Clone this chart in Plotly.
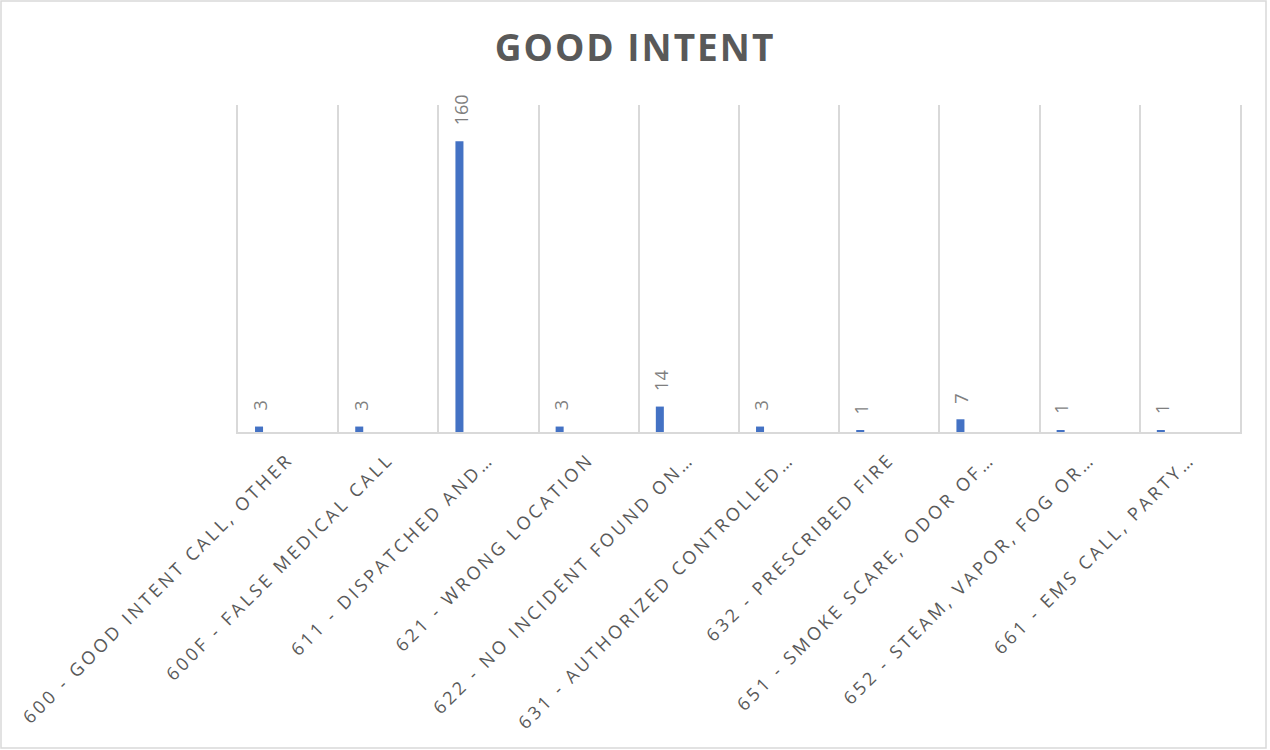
import plotly.graph_objects as go

# Incident type labels (as shown on the axis) and their call counts
categories = [
    "600 - GOOD INTENT CALL, OTHER",
    "600F - FALSE MEDICAL CALL",
    "611 - DISPATCHED AND…",
    "621 - WRONG LOCATION",
    "622 - NO INCIDENT FOUND ON…",
    "631 - AUTHORIZED CONTROLLED…",
    "632 - PRESCRIBED FIRE",
    "651 - SMOKE SCARE, ODOR OF…",
    "652 - STEAM, VAPOR, FOG OR…",
    "661 - EMS CALL, PARTY…",
]
counts = [3, 3, 160, 3, 14, 3, 1, 7, 1, 1]

W, H = 1270, 750
M_L, M_R, M_T, M_B = 238, 30, 105, 318

BAR_WIDTH = 0.08
BAR_OFFSET = -0.33

fig = go.Figure()
fig.add_trace(go.Bar(
    x=categories,
    y=counts,
    width=BAR_WIDTH,
    offset=BAR_OFFSET,
    marker=dict(color="#4472C4", line=dict(width=0)),
    hoverinfo="x+y",
))

# Rotated value labels above each bar
for cat, val in zip(categories, counts):
    fig.add_annotation(
        x=cat, y=val, xref="x", yref="y",
        text=str(val), showarrow=False, textangle=-90,
        xanchor="center", yanchor="bottom",
        xshift=(BAR_OFFSET + BAR_WIDTH / 2) * (W - M_L - M_R) / len(categories) + 1,
        yshift=14,
        font=dict(family="Open Sans", size=18, color="#7f7f7f"),
    )

# Outer chart frame
pw, ph = W - M_L - M_R, H - M_T - M_B
fig.add_shape(
    type="rect", xref="paper", yref="paper",
    x0=(1 - M_L) / pw, x1=(W - 4 - M_L) / pw,
    y0=-(H - 2 - M_T - ph) / ph, y1=1 + (M_T - 1) / ph,
    line=dict(color="#d9d9d9", width=1.5), fillcolor="rgba(0,0,0,0)",
    layer="below",
)

fig.update_layout(
    width=W, height=H,
    margin=dict(l=M_L, r=M_R, t=M_T, b=M_B),
    paper_bgcolor="white", plot_bgcolor="white",
    showlegend=False,
    title=dict(
        text="<b>GOOD INTENT</b>",
        x=0.5, xref="container", xanchor="center",
        y=1 - 48 / H, yref="container", yanchor="middle",
        font=dict(family="Open Sans", size=37, color="#595959"),
    ),
    xaxis=dict(
        type="category",
        tickson="boundaries",
        showgrid=True, gridcolor="#d9d9d9", gridwidth=1.5,
        showline=True, linecolor="#d9d9d9", linewidth=1.5,
        ticks="", tickangle=-45,
        tickfont=dict(family="Open Sans", size=18, color="#595959"),
        ticklabelstandoff=8,
    ),
    yaxis=dict(
        range=[0, 180],
        showgrid=False, zeroline=False,
        showticklabels=False, ticks="",
        showline=True, mirror=True, linecolor="#d9d9d9", linewidth=1.5,
    ),
)

# Widen character spacing of axis and title text
post = """
var gd = document.getElementById('{plot_id}');
gd.querySelectorAll('.xtick text').forEach(function(t){ t.style.letterSpacing = '3.2px'; });
gd.querySelectorAll('.gtitle').forEach(function(t){ t.style.letterSpacing = '2px'; });
"""

fig.write_html("out.html", post_script=post)
